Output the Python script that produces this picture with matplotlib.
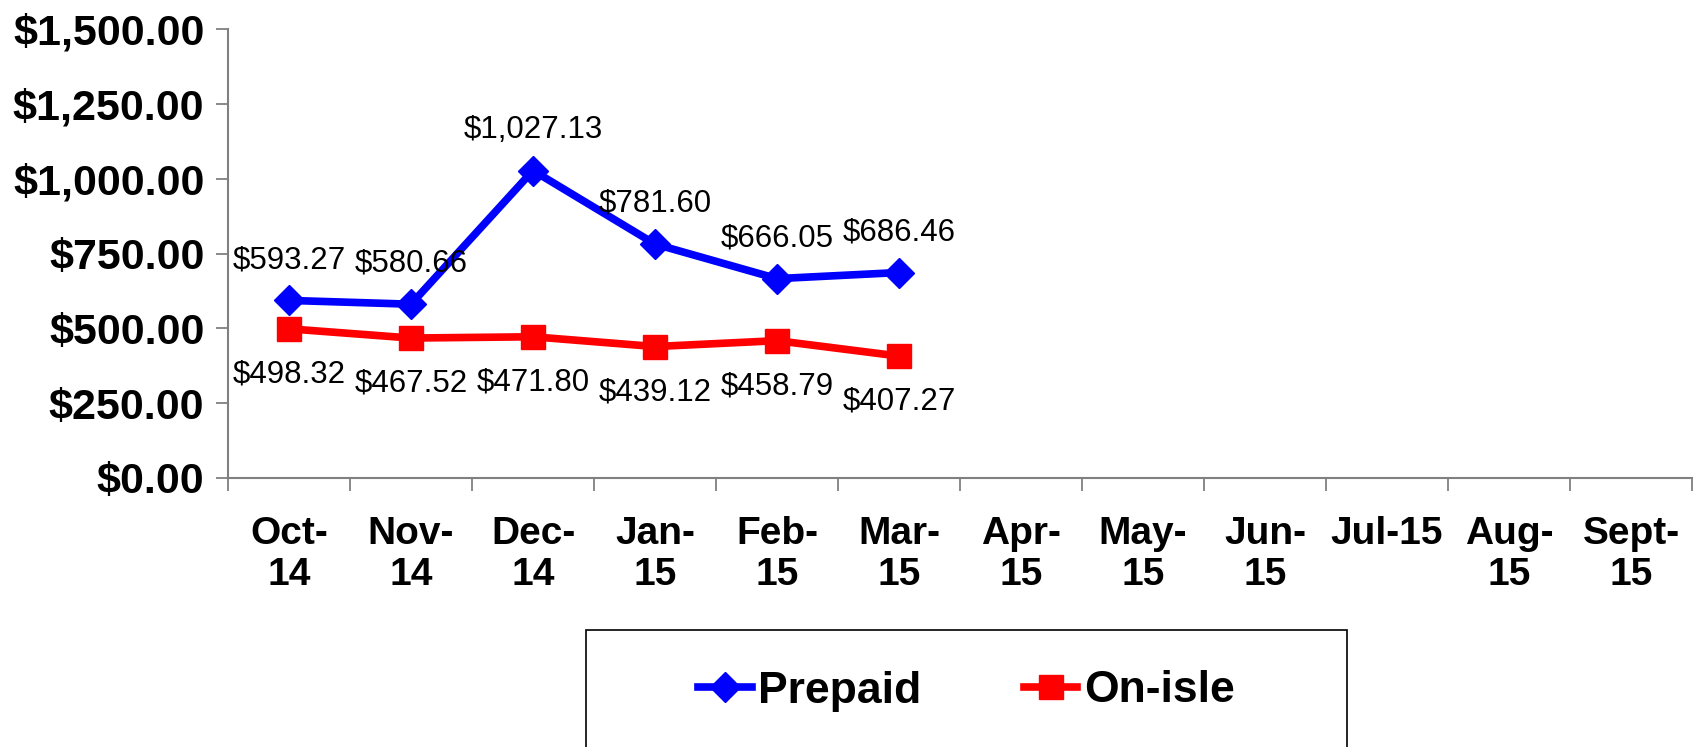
import matplotlib
matplotlib.use("Agg")
import matplotlib.pyplot as plt
from matplotlib.patches import Rectangle
import numpy as np

months = ["Oct-\n14", "Nov-\n14", "Dec-\n14", "Jan-\n15", "Feb-\n15", "Mar-\n15",
          "Apr-\n15", "May-\n15", "Jun-\n15", "Jul-15\n", "Aug-\n15", "Sept-\n15"]
prepaid = [593.27, 580.66, 1027.13, 781.60, 666.05, 686.46]
onisle = [498.32, 467.52, 471.80, 439.12, 458.79, 407.27]
yticks = [0, 250, 500, 750, 1000, 1250, 1500]

plt.rcParams['font.family'] = ['Liberation Sans', 'DejaVu Sans']

fig = plt.figure(figsize=(17.01, 7.47), dpi=100)
ax = fig.add_axes([228/1701, 1-478/747, (1692-228)/1701, (478-29)/747])

x = np.arange(len(prepaid))
ax.plot(x, prepaid, color='#0000FF', lw=5.5, marker='D', markersize=15, label='Prepaid', zorder=3)
ax.plot(x, onisle, color='#FF0000', lw=5.5, marker='s', markersize=17, label='On-isle', zorder=3)

for xi, v in zip(x, prepaid):
    ax.annotate(f"${v:,.2f}", (xi, v), xytext=(0, 29), textcoords='offset points',
                ha='center', va='center', fontsize=22.5, color='black', zorder=4)
for xi, v in zip(x, onisle):
    ax.annotate(f"${v:,.2f}", (xi, v), xytext=(0, -33), textcoords='offset points',
                ha='center', va='center', fontsize=22.5, color='black', zorder=4)

ax.set_xlim(-0.5, len(months) - 0.5)
ax.set_ylim(0, 1500)
ax.set_yticks(yticks)
ax.set_yticklabels([f"${t:,.2f}" for t in yticks], fontsize=31, fontweight='bold')
ax.set_xticks(np.arange(len(months)))
ax.set_xticklabels(months, fontsize=28, fontweight='bold', linespacing=1.2, va='top')
ax.set_xticks(np.arange(-0.5, len(months)), minor=True)
ax.tick_params(axis='x', which='major', length=0, pad=27)
ax.tick_params(axis='x', which='minor', length=9, width=1.3, color='#808080', direction='out')
ax.tick_params(axis='y', length=9, width=1.3, color='#808080', direction='out', pad=8)

for s in ['top', 'right']:
    ax.spines[s].set_visible(False)
for s in ['left', 'bottom']:
    ax.spines[s].set_color('#808080')
    ax.spines[s].set_linewidth(1.5)

# legend box
fig.patches.append(Rectangle((586/1701, -0.05), (1347-586)/1701, 0.05 + 1-630/747,
                             transform=fig.transFigure, fill=False, edgecolor='black', lw=1.2))
leg = fig.legend(loc='center', bbox_to_anchor=((586+1347)/2/1701, 1-691/747), ncol=2,
                 frameon=False, prop={'size': 32, 'weight': 'bold'}, handlelength=1.2,
                 handletextpad=0.15, columnspacing=2.3)

fig.savefig("out.png", dpi=100)
